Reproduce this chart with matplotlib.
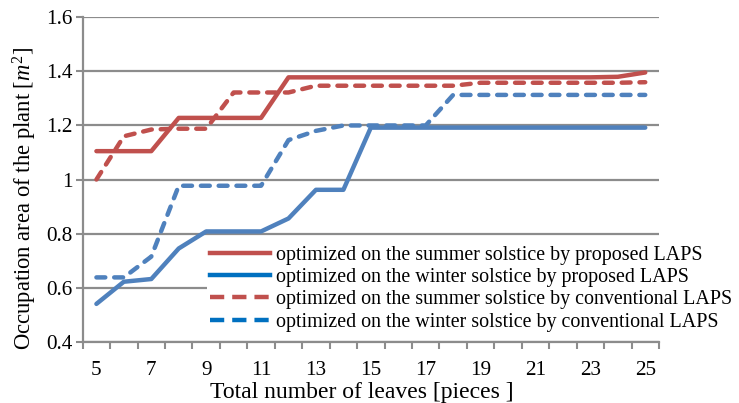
import matplotlib
matplotlib.use('Agg')
import matplotlib.pyplot as plt
from matplotlib.lines import Line2D

plt.rcParams['font.family'] = ['Liberation Serif', 'DejaVu Serif']
plt.rcParams['mathtext.fontset'] = 'custom'
plt.rcParams['mathtext.rm'] = 'Liberation Serif'
plt.rcParams['mathtext.it'] = 'Liberation Serif:italic'

leaves = list(range(5, 26))
summer_proposed = [1.105, 1.105, 1.105, 1.228, 1.228, 1.228, 1.228, 1.378, 1.378, 1.378,
                   1.378, 1.378, 1.378, 1.378, 1.378, 1.378, 1.378, 1.378, 1.378, 1.380, 1.396]
winter_proposed = [0.540, 0.622, 0.632, 0.745, 0.808, 0.808, 0.808, 0.856, 0.962, 0.962,
                   1.192, 1.192, 1.192, 1.192, 1.192, 1.192, 1.192, 1.192, 1.192, 1.192, 1.192]
summer_conventional = [1.000, 1.160, 1.185, 1.188, 1.188, 1.322, 1.322, 1.322, 1.347, 1.347,
                       1.347, 1.347, 1.347, 1.347, 1.358, 1.358, 1.358, 1.358, 1.358, 1.358, 1.360]
winter_conventional = [0.638, 0.638, 0.715, 0.977, 0.977, 0.977, 0.977, 1.146, 1.180, 1.200,
                       1.200, 1.200, 1.200, 1.313, 1.313, 1.313, 1.313, 1.313, 1.313, 1.313, 1.313]
labels = ['optimized on the summer solstice by proposed LAPS',
          'optimized on the winter solstice by proposed LAPS',
          'optimized on the summer solstice by conventional LAPS',
          'optimized on the winter solstice by conventional LAPS']

red = '#C0504D'
blue = '#4F81BD'
grey = '#8C8C8C'

fig = plt.figure(figsize=(7.39, 4.03), dpi=100)
ax = fig.add_axes([0.1119, 0.152, 0.7798, 0.805])

lw = 3.2
ax.plot(leaves, summer_proposed, color=red, lw=lw, solid_capstyle='round', zorder=3)
ax.plot(leaves, winter_proposed, color=blue, lw=lw, solid_capstyle='round', zorder=3)
ax.plot(leaves, summer_conventional, color=red, lw=lw, dashes=(2.0, 2.0),
        dash_capstyle='round', zorder=3)
ax.plot(leaves, winter_conventional, color=blue, lw=lw, dashes=(2.0, 2.0),
        dash_capstyle='round', zorder=3)

ax.set_xlim(4.5, 25.5)
ax.set_ylim(0.4, 1.6)
ax.set_yticks([0.4, 0.6, 0.8, 1.0, 1.2, 1.4, 1.6])
ax.set_yticklabels(['0.4', '0.6', '0.8', '1', '1.2', '1.4', '1.6'])
ax.set_xticks(range(5, 26, 2))
ax.set_xticks([x + 0.5 for x in range(4, 26)], minor=True)
ax.tick_params(axis='x', which='major', length=0, pad=14, labelsize=15.2)
ax.tick_params(axis='x', which='minor', length=5, width=1.5, color=grey, direction='out')
ax.tick_params(axis='y', length=5, width=1.5, color=grey, direction='out', pad=2, labelsize=15.2)

ax.grid(axis='y', color=grey, lw=1.6, zorder=0)
for s in ['top', 'right']:
    ax.spines[s].set_visible(False)
for s in ['left', 'bottom']:
    ax.spines[s].set_color(grey)
    ax.spines[s].set_linewidth(1.6)

ax.set_xlabel('Total number of leaves [pieces ]', fontsize=17)
ax.xaxis.set_label_coords(0.484, -0.124)
ax.set_ylabel('Occupation area of the plant [$m^2$]', fontsize=16.3)
ax.yaxis.set_label_coords(-0.076, 0.442)

handles = [Line2D([], [], color=red, lw=lw),
           Line2D([], [], color='#0070C0', lw=lw),
           Line2D([], [], color=red, lw=lw, dashes=(3.2, 1.8), dash_capstyle='butt'),
           Line2D([], [], color='#0070C0', lw=lw, dashes=(3.2, 1.8), dash_capstyle='butt')]
leg = fig.legend(handles, labels, loc='upper left', bbox_to_anchor=(207 / 739, 1 - 243 / 403),
                 fontsize=14.4, frameon=True, fancybox=False, handlelength=3.0,
                 handletextpad=0.3, labelspacing=0.16, borderpad=0.15, borderaxespad=0)
leg.get_frame().set_facecolor('white')
leg.get_frame().set_edgecolor('none')
leg.get_frame().set_alpha(1)

fig.savefig('out.png', dpi=100)
